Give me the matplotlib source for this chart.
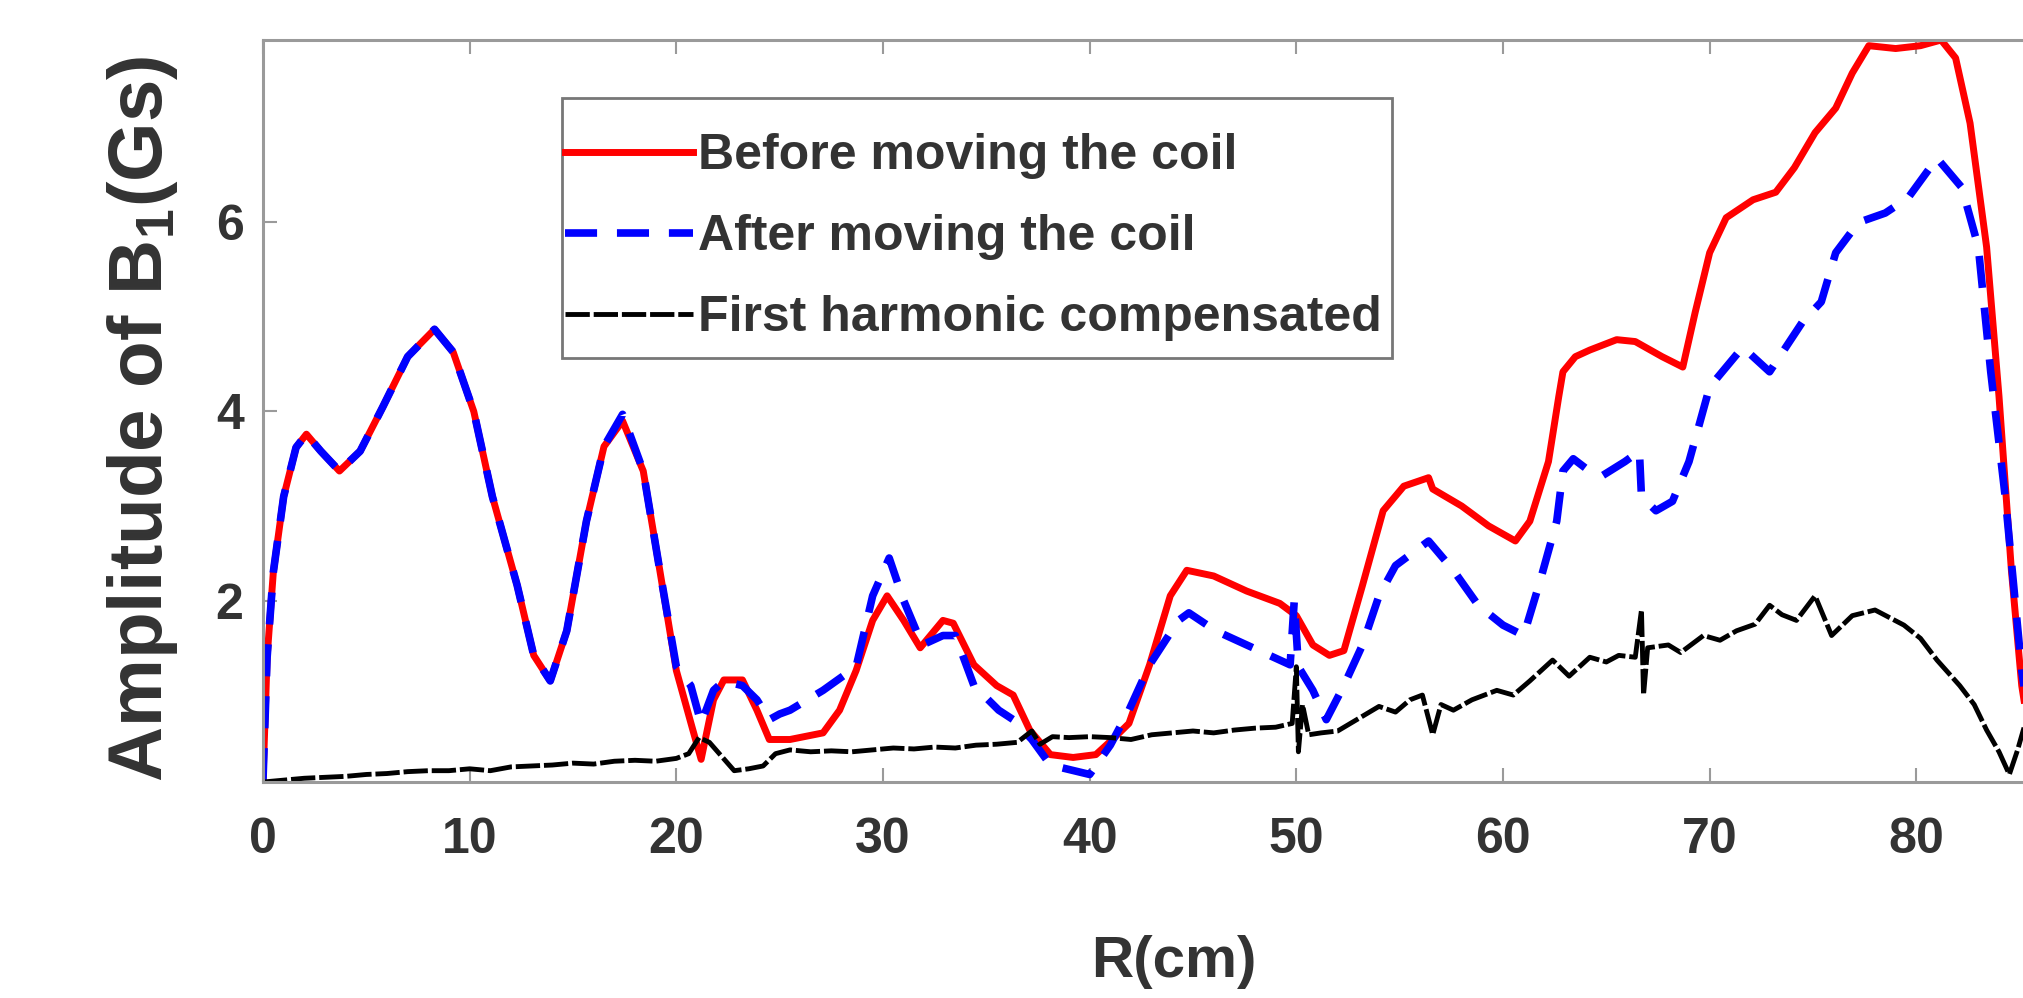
import matplotlib
matplotlib.use("Agg")
import matplotlib.pyplot as plt
from matplotlib.patches import Rectangle

plt.rcParams.update({
    'font.family': 'Liberation Sans',
    'font.weight': 'bold',
    'axes.labelweight': 'bold',
    'mathtext.default': 'regular',
})

# R(cm) / amplitude (Gs)
r_before = [0, 0.2, 0.5, 1.0, 1.6, 2.1, 2.8, 3.7, 4.7, 5.8, 7.0, 8.3, 9.2, 10.2, 11.1,
            12.3, 13.1, 13.9, 14.7, 15.65, 16.5, 17.4, 18.4, 19.2, 20.0, 20.8, 21.2,
            21.8, 22.3, 23.2, 23.9, 24.5, 25.5, 27.1, 27.9, 28.7, 29.5, 30.2, 31.0,
            31.8, 32.9, 33.4, 34.4, 35.5, 36.3, 37.1, 38.1, 39.2, 40.3, 41.2, 41.9,
            42.9, 43.9, 44.7, 46.0, 47.6, 49.2, 50.0, 50.8, 51.6, 52.3, 53.2, 54.2,
            55.2, 56.4, 56.6, 58.0, 59.3, 60.6, 61.3, 62.2, 62.7, 62.9, 63.5, 64.2,
            65.5, 66.4, 67.7, 68.7, 69.3, 70.0, 70.8, 72.1, 73.2, 74.1, 75.1, 76.1,
            76.9, 77.7, 79.0, 80.2, 81.2, 81.9, 82.6, 83.4, 84.0, 84.6, 85.1, 85.6, 86.0]
b_before = [0.1, 1.4, 2.3, 3.1, 3.62, 3.76, 3.58, 3.37, 3.58, 4.05, 4.58, 4.87, 4.63, 4.0, 3.1,
            2.16, 1.42, 1.15, 1.68, 2.84, 3.63, 3.9, 3.37, 2.32, 1.26, 0.63, 0.32,
            0.95, 1.16, 1.16, 0.84, 0.53, 0.53, 0.6, 0.84, 1.26, 1.79, 2.05, 1.79,
            1.5, 1.79, 1.76, 1.32, 1.1, 1.0, 0.63, 0.37, 0.34, 0.37, 0.55, 0.7,
            1.32, 2.05, 2.32, 2.26, 2.1, 1.97, 1.84, 1.53, 1.42, 1.47, 2.16, 2.95,
            3.21, 3.3, 3.18, 3.0, 2.79, 2.63, 2.84, 3.47, 4.16, 4.42, 4.58, 4.65,
            4.76, 4.74, 4.58, 4.47, 5.05, 5.68, 6.05, 6.24, 6.32, 6.58, 6.95, 7.21,
            7.58, 7.87, 7.84, 7.87, 7.93, 7.74, 7.05, 5.74, 4.16, 2.32, 1.1, 0.4, 0.15]

r_after = [0, 0.2, 0.5, 1.0, 1.6, 2.1, 2.8, 3.7, 4.7, 5.8, 7.0, 8.3, 9.2, 10.2, 11.1,
           12.3, 13.1, 13.9, 14.7, 15.65, 16.5, 17.4, 18.4, 19.2, 20.0, 20.7, 21.2,
           21.8, 22.3, 23.2, 23.9, 24.5, 25.0, 25.5, 27.1, 28.7, 29.5, 30.3, 31.0,
           31.9, 32.9, 33.5, 34.4, 35.6, 36.3, 37.2, 38.1, 40.0, 41.0, 41.9, 42.9,
           44.3, 44.8, 46.1, 47.6, 48.7, 49.7, 49.9, 50.1, 50.8, 51.45, 52.3, 53.2,
           54.0, 54.8, 56.4, 57.6, 58.8, 60.0, 61.0, 61.8, 62.6, 62.9, 63.4, 64.0,
           64.8, 65.9, 66.6, 66.7, 67.4, 68.2, 69.0, 70.0, 71.6, 72.9, 74.5, 75.4,
           76.1, 77.2, 78.5, 79.6, 81.0, 82.2, 83.0, 83.6, 84.3, 85.1, 85.6, 86.0]
b_after = [0.1, 1.4, 2.3, 3.1, 3.62, 3.76, 3.58, 3.37, 3.58, 4.05, 4.58, 4.87, 4.63, 4.0, 3.1,
           2.16, 1.42, 1.15, 1.68, 2.84, 3.63, 3.97, 3.37, 2.32, 1.3, 1.1, 0.7,
           1.05, 1.15, 1.1, 0.95, 0.74, 0.8, 0.84, 1.05, 1.3, 2.05, 2.45, 2.0,
           1.53, 1.63, 1.63, 1.1, 0.84, 0.74, 0.53, 0.26, 0.16, 0.47, 0.84, 1.32,
           1.79, 1.87, 1.68, 1.53, 1.42, 1.32, 2.0, 1.3, 1.05, 0.74, 1.1, 1.53,
           2.05, 2.37, 2.63, 2.32, 1.95, 1.74, 1.63, 2.21, 2.84, 3.37, 3.5, 3.4,
           3.32, 3.47, 3.58, 3.1, 2.95, 3.05, 3.47, 4.26, 4.68, 4.42, 4.95, 5.16,
           5.68, 6.0, 6.1, 6.26, 6.68, 6.37, 5.74, 4.42, 3.1, 1.26, 0.5, 0.2]

r_comp = [0, 1, 2, 3, 4, 5, 6, 7, 8, 9, 10, 11, 12, 13, 14, 15, 16, 17, 18, 19, 20,
          20.6, 21.1, 21.6, 22.2, 22.8, 23.5, 24.2, 24.8, 25.5, 26.5, 27.5, 28.5,
          29.5, 30.5, 31.5, 32.5, 33.5, 34.5, 35.5, 36.5, 37.2, 37.6, 38.2, 39, 40,
          41, 42, 43, 44, 45, 46, 47, 48, 49, 49.8, 50.0, 50.1, 50.3, 50.6, 51.2,
          52, 53, 54, 54.8, 55.5, 56.1, 56.6, 57.0, 57.6, 58.5, 59.7, 60.5, 61.3,
          62.4, 63.2, 64.2, 65.0, 65.6, 66.4, 66.7, 66.8, 67.0, 68.0, 68.6, 69.7,
          70.5, 71.3, 72.2, 72.9, 73.5, 74.2, 75.1, 75.9, 76.9, 78.0, 79.4, 80.2,
          81.0, 82.1, 82.8, 83.4, 84.0, 84.5, 84.9, 85.4, 85.8]
b_comp = [0.08, 0.1, 0.12, 0.13, 0.14, 0.16, 0.17, 0.19, 0.2, 0.2, 0.22, 0.2, 0.24,
          0.25, 0.26, 0.28, 0.27, 0.3, 0.31, 0.3, 0.33,
          0.38, 0.55, 0.5, 0.35, 0.2, 0.22, 0.25, 0.38, 0.42, 0.4, 0.41, 0.4,
          0.42, 0.44, 0.43, 0.45, 0.44, 0.47, 0.48, 0.5, 0.62, 0.48, 0.56, 0.55, 0.56,
          0.55, 0.53, 0.58, 0.6, 0.62, 0.6, 0.63, 0.65, 0.66, 0.7, 1.3, 0.4, 0.9, 0.58, 0.6,
          0.62, 0.75, 0.88, 0.82, 0.95, 1.0, 0.58, 0.9, 0.84, 0.95, 1.05, 1.0, 1.15,
          1.37, 1.2, 1.4, 1.35, 1.42, 1.4, 1.9, 1.0, 1.5, 1.53, 1.45, 1.63,
          1.58, 1.68, 1.75, 1.95, 1.85, 1.79, 2.05, 1.63, 1.84, 1.9, 1.74, 1.6,
          1.37, 1.1, 0.9, 0.63, 0.4, 0.16, 0.42, 0.8, 1.0]

labels = ["Before moving the coil", "After moving the coil", "First harmonic compensated"]
xticks = [0, 10, 20, 30, 40, 50, 60, 70, 80]
yticks = [2, 4, 6]

W, H = 2023, 998
fig = plt.figure(figsize=(W / 100, H / 100), dpi=100)
ax = fig.add_axes([0.13, 0.2164, 0.899, 0.7435])

ax.plot(r_before, b_before, color="red", lw=5, label=labels[0])
ax.plot(r_after, b_after, color="blue", lw=5.5, dashes=(4.2, 2.6), label=labels[1])
ax.plot(r_comp, b_comp, color="black", lw=3.5, dashes=(5, 0.8), label=labels[2])

ax.set_xlim(0, 88)
ax.set_ylim(0.08, 7.93)
ax.set_xticks(xticks)
ax.set_yticks(yticks)

grey = "#9a9a9a"
for s in ax.spines.values():
    s.set_color(grey)
    s.set_linewidth(2.2)
ax.tick_params(direction="in", length=10, width=1.5, color=grey,
               labelsize=36, labelcolor="#333333", top=True, right=True)
ax.tick_params(axis="x", pad=25)
ax.tick_params(axis="y", pad=14)

ax.set_xlabel("R(cm)", fontsize=42, color="#333333")
ax.xaxis.set_label_coords(0.501, -0.243)
ax.xaxis.label.set_va("center")
ax.set_ylabel("Amplitude of B$_1$(Gs)", fontsize=55, color="#333333")
ax.yaxis.set_label_coords(-0.066, 0.49)
ax.yaxis.label.set_va("center")

# legend box drawn separately so the vertical padding can differ from the horizontal one
box = Rectangle((562 / W, 1 - 358 / H), (1392 - 562) / W, (358 - 98) / H,
                transform=fig.transFigure, facecolor="white", edgecolor="#777777",
                lw=2, zorder=4, clip_on=False)
ax.add_patch(box)
leg = ax.legend(loc="upper left", bbox_to_anchor=(565 / W, 1 - 133 / H),
                bbox_transform=fig.transFigure, fontsize=36, frameon=False,
                borderaxespad=0, borderpad=0, handlelength=2.55,
                handletextpad=0.1, labelspacing=0.7)
leg.set_zorder(5)
for t in leg.get_texts():
    t.set_color("#333333")

fig.savefig("out.png", dpi=100)
